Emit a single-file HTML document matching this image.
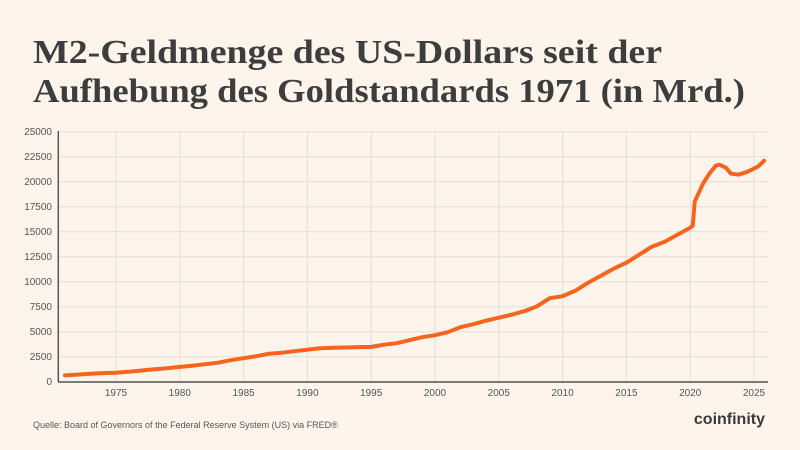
<!DOCTYPE html>
<html><head><meta charset="utf-8"><style>
html,body{margin:0;padding:0;background:#fdf5ec;}
svg{display:block;font-family:"Liberation Sans",sans-serif;}
</style></head><body>
<svg id="chart" width="800" height="450" viewBox="0 0 800 450" xmlns="http://www.w3.org/2000/svg">
<rect width="800" height="450" fill="#fdf5ec"/>
<text x="33" y="63" font-family="Liberation Serif, serif" font-weight="bold" font-size="34" fill="#3d3d3d" textLength="629" lengthAdjust="spacingAndGlyphs">M2-Geldmenge des US-Dollars seit der</text>
<text x="33" y="102" font-family="Liberation Serif, serif" font-weight="bold" font-size="34" fill="#3d3d3d" textLength="712" lengthAdjust="spacingAndGlyphs">Aufhebung des Goldstandards 1971 (in Mrd.)</text>
<g id="grid"></g>
<g id="ticks"></g>
<path id="line" fill="none" stroke="#f7641e" stroke-width="4" stroke-linejoin="round" stroke-linecap="round"/>
<line x1="58.3" y1="131" x2="58.3" y2="382" stroke="#555" stroke-width="1.5"/>
<line x1="58" y1="382" x2="768" y2="382" stroke="#555" stroke-width="1.5"/>
<text x="33" y="428" font-size="9" fill="#555">Quelle: Board of Governors of the Federal Reserve System (US) via FRED®</text>
<text x="765" y="424" text-anchor="end" font-size="16" font-weight="bold" fill="#3a3a3a">coinfinity</text>
</svg>
<script>
const years=[1971,1972,1973,1974,1975,1976,1977,1978,1979,1980,1981,1982,1983,1984,1985,1986,1987,1988,1989,1990,1991,1992,1993,1994,1995,1996,1997,1998,1999,2000,2001,2002,2003,2004,2005,2006,2007,2008,2009,2010,2011,2012,2013,2014,2015,2016,2017,2018,2019,2020,2020.2,2020.35,2021,2021.5,2022,2022.3,2022.8,2023.2,2023.8,2024.5,2025.3,2025.8];
const m2=[630,710,800,860,900,1000,1120,1250,1350,1480,1600,1750,1900,2150,2350,2550,2800,2900,3050,3200,3340,3400,3420,3460,3480,3700,3850,4150,4450,4650,4950,5450,5750,6100,6400,6700,7050,7550,8350,8550,9100,9900,10600,11300,11900,12700,13500,14000,14700,15400,15600,18000,19800,20800,21600,21700,21400,20800,20700,21000,21500,22100];
const yTicks=[0,2500,5000,7500,10000,12500,15000,17500,20000,22500,25000];
const xTicks=[1975,1980,1985,1990,1995,2000,2005,2010,2015,2020,2025];
const NS="http://www.w3.org/2000/svg";
function xs(y){return 116+(y-1975)*12.76;}
function ys(v){return 381.7-v*0.01;}
const grid=document.getElementById('grid'),ticks=document.getElementById('ticks');
yTicks.forEach(v=>{
 const l=document.createElementNS(NS,'line');
 l.setAttribute('x1',58);l.setAttribute('x2',768);l.setAttribute('y1',ys(v));l.setAttribute('y2',ys(v));
 l.setAttribute('stroke','#e6ddd3');l.setAttribute('stroke-width','1');
 
 
 grid.appendChild(l);
 const t=document.createElementNS(NS,'text');
 t.setAttribute('x',52);t.setAttribute('y',ys(v)+3.5);t.setAttribute('text-anchor','end');
 t.setAttribute('font-size','10');t.setAttribute('fill','#555');t.textContent=v;
 
 
 ticks.appendChild(t);
});
xTicks.forEach(y=>{
 const l=document.createElementNS(NS,'line');
 l.setAttribute('x1',xs(y));l.setAttribute('x2',xs(y));l.setAttribute('y1',131);l.setAttribute('y2',382);
 l.setAttribute('stroke','#e6ddd3');l.setAttribute('stroke-width','1');
 
 
 grid.appendChild(l);
 const t=document.createElementNS(NS,'text');
 t.setAttribute('x',xs(y));t.setAttribute('y',396);t.setAttribute('text-anchor','middle');
 t.setAttribute('font-size','10');t.setAttribute('fill','#555');t.textContent=y;
 
 
 ticks.appendChild(t);
});
document.getElementById('line').setAttribute('d',years.map((y,i)=>(i?'L':'M')+xs(y).toFixed(1)+','+ys(m2[i]).toFixed(1)).join(''));
</script>
</body></html>
